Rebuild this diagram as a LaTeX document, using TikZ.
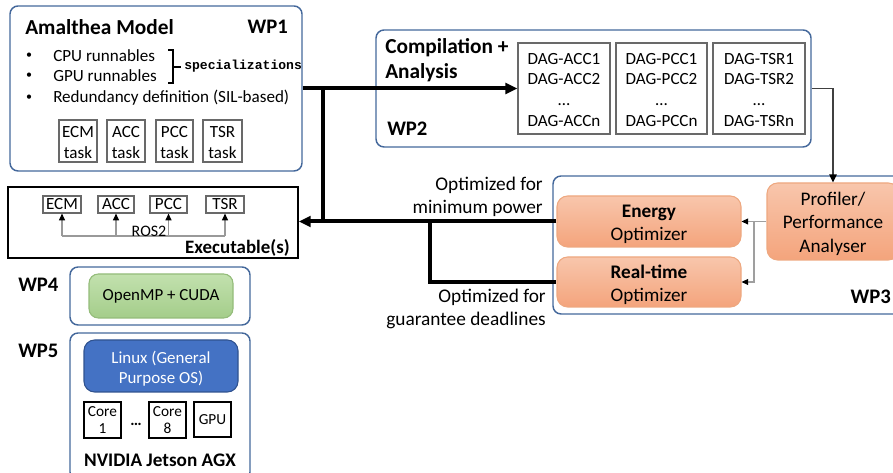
\documentclass[tikz,border=0pt]{standalone}
\usepackage{fontspec}
\setmainfont{Carlito}
\newfontfamily\codefont{Liberation Mono}
\usetikzlibrary{arrows.meta,fit}
\definecolor{wpblue}{RGB}{68,104,155}
\definecolor{orgtop}{RGB}{248,198,172}
\definecolor{orgbot}{RGB}{244,164,124}
\definecolor{orgline}{RGB}{238,168,128}
\definecolor{grntop}{RGB}{194,225,174}
\definecolor{grnbot}{RGB}{164,205,138}
\definecolor{grnline}{RGB}{148,188,122}
\definecolor{osblue}{RGB}{68,114,196}
\definecolor{osline}{RGB}{47,82,143}
\definecolor{boxgray}{RGB}{105,105,105}
\tikzset{
  txt/.style={inner sep=0pt, align=center},
  bodyf/.style={font=\fontsize{12.8}{15.4}\selectfont},
  titlef/.style={font=\fontsize{16}{19}\selectfont\bfseries},
  wpf/.style={font=\fontsize{15.5}{18}\selectfont\bfseries},
  optf/.style={font=\fontsize{14.5}{17.25}\selectfont},
  orgf/.style={font=\fontsize{14.4}{17.4}\selectfont},
  codef/.style={font=\fontsize{9.8}{11}\codefont\bfseries},
  wpbox/.style={draw=wpblue, line width=1.1pt, rounded corners=6pt, inner sep=0pt},
  smallbox/.style={draw=boxgray, line width=0.9pt, inner sep=0pt},
  orgbox/.style={draw=orgline, line width=0.8pt, rounded corners=8pt, top color=orgtop, bottom color=orgbot, inner sep=0pt},
  blackbox/.style={draw, line width=0.9pt, inner sep=0pt},
  bigline/.style={line width=3pt},
  bigtip/.style={-{Triangle[length=9pt,width=8pt]}},
  darkline/.style={draw=black!75, line width=1.1pt, -{Triangle[length=6pt,width=5.5pt,black]}},
  thinarrow/.style={draw=gray!75, line width=0.8pt, -{Triangle[length=5pt,width=4.5pt,black]}},
  rosline/.style={draw=gray!80, line width=0.9pt},
  rosarrow/.style={draw=gray!80, line width=0.9pt, -{Triangle[length=5pt,width=4.5pt,black]}},
}
\begin{document}
\begin{tikzpicture}[x=0.75pt,y=-0.75pt]
\useasboundingbox (0,0) rectangle (893,473);
\clip (0,0) rectangle (893,473);

% ---------------- WP1 ----------------
\node[wpbox, fit={(10,6)(302,171)}] (wp1) {};
\node[txt, titlef, anchor=west] (wp1t) at (25,27) {Amalthea Model};
\node[txt, wpf, anchor=east] (wp1l) at (288,27) {WP1};
\node[txt, font=\fontsize{9}{10}\selectfont] (b1) at (29,56) {\textbullet};
\node[txt, font=\fontsize{9}{10}\selectfont] (b2) at (29,76) {\textbullet};
\node[txt, font=\fontsize{9}{10}\selectfont] (b3) at (29,98) {\textbullet};
\node[txt, bodyf, anchor=west] (l1) at (53,56) {CPU runnables};
\node[txt, bodyf, anchor=west] (l2) at (53,76) {GPU runnables};
\node[txt, bodyf, anchor=west] (l3) at (53,98) {Redundancy definition (SIL-based)};
\draw[line width=0.8pt] (168,50) -- (173,50) -- (173,83) -- (168,83);
\draw[line width=0.8pt] (173,67) -- (181,67);
\node[txt, codef, anchor=west] (spec) at (184,66) {specializations};
\node[smallbox, fit={(59,120)(97,162)}] (t1) {};
\node[smallbox, fit={(107,120)(145,162)}] (t2) {};
\node[smallbox, fit={(156,120)(193,162)}] (t3) {};
\node[smallbox, fit={(203,120)(242,162)}] (t4) {};
\node[txt, bodyf, yshift=-1pt] (t1x) at (t1.center) {ECM\\task};
\node[txt, bodyf, yshift=-1pt] (t2x) at (t2.center) {ACC\\task};
\node[txt, bodyf, yshift=-1pt] (t3x) at (t3.center) {PCC\\task};
\node[txt, bodyf, yshift=-1pt] (t4x) at (t4.center) {TSR\\task};

% ---------------- WP2 ----------------
\node[wpbox, fit={(376,30)(811,147)}] (wp2) {};
\node[txt, font=\fontsize{16}{19}\selectfont\bfseries, anchor=west] (c1) at (385,48) {Compilation +};
\node[txt, font=\fontsize{16}{19}\selectfont\bfseries, anchor=west] (c2) at (385,73) {Analysis};
\node[txt, wpf, anchor=west] (wp2l) at (387,129) {WP2};
\node[smallbox, fit={(518,43)(610,134)}] (dag1) {};
\node[smallbox, fit={(616,43)(707,134)}] (dag2) {};
\node[smallbox, fit={(713,43)(805,134)}] (dag3) {};
\node[txt, font=\fontsize{12.8}{15.6}\selectfont, yshift=-1pt] (dag1x) at (dag1.center) {DAG-ACC1\\DAG-ACC2\\\ldots\\DAG-ACCn};
\node[txt, font=\fontsize{12.8}{15.6}\selectfont, yshift=-1pt] (dag2x) at (dag2.center) {DAG-PCC1\\DAG-PCC2\\\ldots\\DAG-PCCn};
\node[txt, font=\fontsize{12.8}{15.6}\selectfont, yshift=-1pt] (dag3x) at (dag3.center) {DAG-TSR1\\DAG-TSR2\\\ldots\\DAG-TSRn};

% ---------------- Executable ----------------
\node[draw, line width=1.1pt, inner sep=0pt, fit={(8,187)(298,258)}] (exe) {};
\node[smallbox, fit={(43,196)(81,213)}] (ecm) {};
\node[smallbox, fit={(98,196)(134,213)}] (acc) {};
\node[smallbox, fit={(150,196)(187,213)}] (pcc) {};
\node[smallbox, fit={(206,196)(244,213)}] (tsr) {};
\node[txt, bodyf] (ecmx) at (ecm.center) {ECM};
\node[txt, bodyf] (accx) at (acc.center) {ACC};
\node[txt, bodyf] (pccx) at (pcc.center) {PCC};
\node[txt, bodyf] (tsrx) at (tsr.center) {TSR};
\coordinate (rb) at (0,236);
\draw[rosline] (ecm.south |- rb) -- (tsr.south |- rb);
\foreach \n in {ecm,acc,pcc,tsr} \draw[rosarrow] (\n.south |- rb) -- (\n.south);
\node[txt, font=\fontsize{12}{14}\selectfont] (ros) at (149,231) {ROS2};
\node[txt, font=\fontsize{14.2}{16}\selectfont\bfseries, anchor=east] (exel) at (290,248) {Executable(s)};

% ---------------- WP3 ----------------
\node[wpbox, fit={(553,176)(905,314)}] (wp3) {};
\node[orgbox, fit={(557,196)(741,247)}] (en) {};
\node[orgbox, fit={(557,257)(741,307)}] (rt) {};
\node[orgbox, fit={(767,183)(899,260)}] (prof) {};
\node[txt, orgf, yshift=-2pt] (enx) at (en.center) {\textbf{Energy}\\Optimizer};
\node[txt, orgf, yshift=-2pt] (rtx) at (rt.center) {\textbf{Real-time}\\Optimizer};
\node[txt, font=\fontsize{14.4}{17.6}\selectfont, yshift=-1.5pt] (profx) at (833,221.5) {Profiler/\\Performance\\Analyser};
\node[txt, wpf, anchor=east] (wp3l) at (891,297) {WP3};
\node[txt, optf, align=right, anchor=east] (o1) at (543,197) {Optimized for\\minimum power};
\node[txt, optf, align=right, anchor=east] (o2) at (546,309) {Optimized for\\guarantee deadlines};

% ---------------- WP4 / WP5 ----------------
\node[txt, wpf, anchor=west] (wp4l) at (18,285) {WP4};
\node[wpbox, fit={(70,267)(250,325)}] (wp4) {};
\node[draw=grnline, line width=0.8pt, rounded corners=7pt, top color=grntop, bottom color=grnbot, inner sep=0pt, fit={(89,274)(233,318)}] (omp) {};
\node[txt, font=\fontsize{12.7}{15}\selectfont] (ompx) at (omp.center) {OpenMP + CUDA};
\node[txt, wpf, anchor=west] (wp5l) at (18,351) {WP5};
\node[wpbox, fit={(70,333)(250,480)}] (wp5) {};
\node[draw=osline, line width=0.8pt, rounded corners=8pt, fill=osblue, inner sep=0pt, fit={(84,340)(238,392)}] (os) {};
\node[txt, text=white, font=\fontsize{12.7}{15}\selectfont, yshift=-2pt] (osx) at (os.center) {Linux (General\\Purpose OS)};
\node[blackbox, fit={(84,402)(121,438)}] (core1) {};
\node[blackbox, fit={(149,402)(186,438)}] (core8) {};
\node[blackbox, fit={(194,402)(231,437)}] (gpu) {};
\node[txt, font=\fontsize{11.5}{12.5}\selectfont] (core1x) at (core1.center) {Core\\1};
\node[txt, font=\fontsize{11.5}{12.5}\selectfont] (core8x) at (core8.center) {Core\\8};
\node[txt, font=\fontsize{11.5}{12.5}\selectfont] (gpux) at (gpu.center) {GPU};
\node[txt, font=\fontsize{12}{14}\selectfont\bfseries] (dots) at (136,424) {\ldots};
\node[txt, font=\fontsize{14.4}{17}\selectfont\bfseries] (nv) at (160,460) {NVIDIA Jetson AGX};

% ---------------- connectors ----------------
\draw[bigline, bigtip] (wp1.east) -- (dag1.west);
\coordinate (j1) at (323,88.5);
\draw[bigline] (j1) -- (j1 |- exe.east);
\draw[bigline, bigtip] (en.west) -- (en.west -| exe.east);
\coordinate (j2) at (430,221.5);
\draw[bigline] (j2) |- (rt.west);
\draw[darkline] (wp2.east) -| (prof.north);
\draw[thinarrow] (prof.west) -- (en.east);
\coordinate (j3) at (754,221.5);
\draw[thinarrow] (j3) |- (rt.east);
\end{tikzpicture}
\end{document}
